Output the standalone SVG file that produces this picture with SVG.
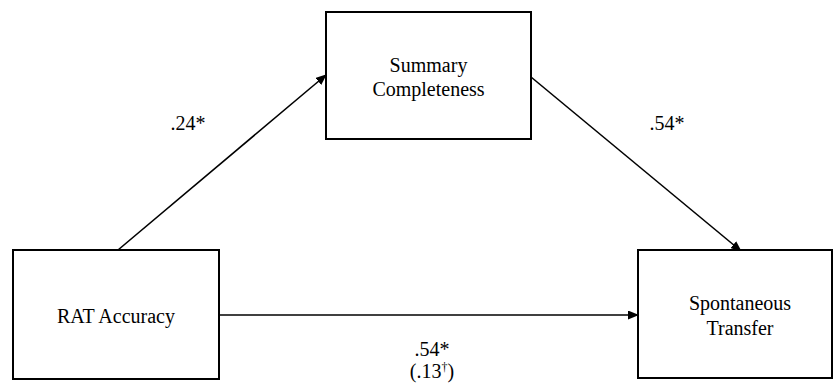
<svg xmlns="http://www.w3.org/2000/svg" width="833" height="384" viewBox="0 0 833 384">
<defs>
<style>
.box{fill:#fff;stroke:#000;stroke-width:2}
.t{font-family:'Liberation Serif','Times New Roman','DejaVu Serif',serif;font-size:20px;fill:#000;text-anchor:middle}
.c{stroke:#000;stroke-width:1.6;fill:none}
</style>
<marker id="ah" markerWidth="11" markerHeight="9" refX="10" refY="4.5" orient="auto" markerUnits="userSpaceOnUse">
<path d="M0,0 L11,4.5 L0,9 z" fill="#000"/>
</marker>
</defs>
<rect width="833" height="384" fill="#fff"/>
<g id="connectors">
<line class="c" x1="118" y1="250" x2="326" y2="75" marker-end="url(#ah)"/>
<line class="c" x1="531" y1="77" x2="741" y2="251" marker-end="url(#ah)"/>
<line class="c" x1="219" y1="315" x2="638" y2="315" marker-end="url(#ah)"/>
<text class="t" x="188" y="130">.24*</text>
<text class="t" x="667" y="130">.54*</text>
<text class="t" x="432" y="356">.54*</text>
<text class="t" x="432" y="378">(.13<tspan font-size="12" dy="-7">†</tspan><tspan dy="7">)</tspan></text>
</g>
<g id="rat">
<rect class="box" x="13" y="250" width="206" height="129"/>
<text class="t" x="116" y="323">RAT Accuracy</text>
</g>
<g id="summary">
<rect class="box" x="326" y="12" width="205" height="127"/>
<text class="t" x="428.5" y="72">Summary</text>
<text class="t" x="428.5" y="96">Completeness</text>
</g>
<g id="transfer">
<rect class="box" x="638" y="250" width="194" height="128"/>
<text class="t" x="740" y="310">Spontaneous</text>
<text class="t" x="740" y="335">Transfer</text>
</g>
</svg>
